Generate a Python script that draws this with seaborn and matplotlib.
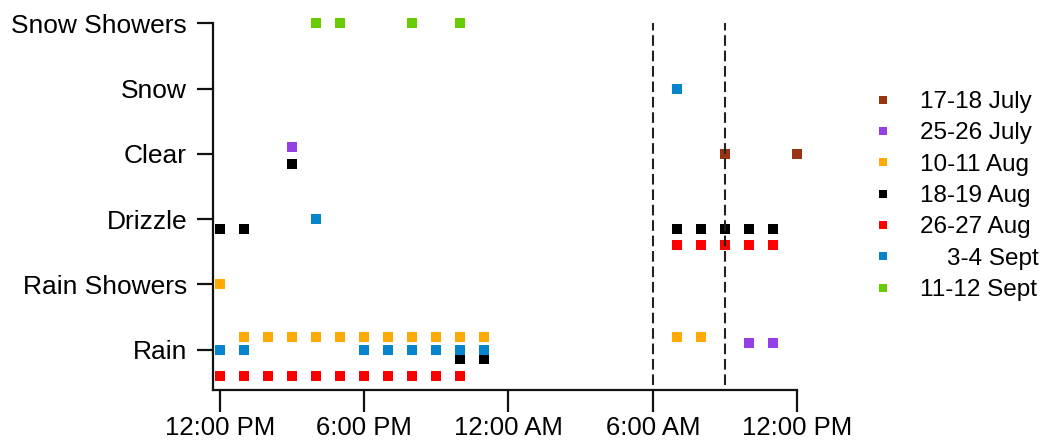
import matplotlib
matplotlib.use("Agg")
import matplotlib.pyplot as plt
import seaborn as sns
import pandas as pd

# condições do tempo (eixo y, de baixo para cima)
condicoes = ["Rain", "Rain Showers", "Drizzle", "Clear", "Snow", "Snow Showers"]

# horas contadas a partir do meio-dia (0 = 12:00 PM, 24 = 12:00 PM do dia seguinte)
periodos = ["17-18 July", "25-26 July", "10-11 Aug", "18-19 Aug",
            "26-27 Aug", "3-4 Sept", "11-12 Sept"]

jul17_horas = [21, 24]
jul17_cond = ["Clear", "Clear"]
jul17_desloc = [0, 0]

jul25_horas = [3, 22, 23]
jul25_cond = ["Clear", "Rain", "Rain"]
jul25_desloc = [0.1, 0.1, 0.1]

ago10_horas = [0, 1, 2, 3, 4, 5, 6, 7, 8, 9, 10, 11, 19, 20]
ago10_cond = ["Rain Showers", "Rain", "Rain", "Rain", "Rain", "Rain", "Rain",
              "Rain", "Rain", "Rain", "Rain", "Rain", "Rain", "Rain"]
ago10_desloc = [0, 0.2, 0.2, 0.2, 0.2, 0.2, 0.2, 0.2, 0.2, 0.2, 0.2, 0.2, 0.2, 0.2]

ago18_horas = [0, 1, 3, 10, 11, 19, 20, 21, 22, 23]
ago18_cond = ["Drizzle", "Drizzle", "Clear", "Rain", "Rain",
              "Drizzle", "Drizzle", "Drizzle", "Drizzle", "Drizzle"]
ago18_desloc = [-0.15] * 10

ago26_horas = [0, 1, 2, 3, 4, 5, 6, 7, 8, 9, 10, 19, 20, 21, 22, 23]
ago26_cond = ["Rain", "Rain", "Rain", "Rain", "Rain", "Rain", "Rain", "Rain",
              "Rain", "Rain", "Rain", "Drizzle", "Drizzle", "Drizzle",
              "Drizzle", "Drizzle"]
ago26_desloc = [-0.4] * 16

set3_horas = [0, 1, 4, 6, 7, 8, 9, 10, 11, 19]
set3_cond = ["Rain", "Rain", "Drizzle", "Rain", "Rain", "Rain", "Rain",
             "Rain", "Rain", "Snow"]
set3_desloc = [0] * 10

set11_horas = [4, 5, 8, 10]
set11_cond = ["Snow Showers"] * 4
set11_desloc = [0] * 4

# linhas tracejadas de referência (6:00 AM e 9:00 AM)
horas_referencia = [18, 21]

rotulos_x = ["12:00 PM", "6:00 PM", "12:00 AM", "6:00 AM", "12:00 PM"]
ticks_x = [0, 6, 12, 18, 24]

cores = ["#993311", "#9540E6", "#FFAA00", "#000000", "#FF0000", "#0585CC", "#66CC00"]

series = [
    (jul17_horas, jul17_cond, jul17_desloc),
    (jul25_horas, jul25_cond, jul25_desloc),
    (ago10_horas, ago10_cond, ago10_desloc),
    (ago18_horas, ago18_cond, ago18_desloc),
    (ago26_horas, ago26_cond, ago26_desloc),
    (set3_horas, set3_cond, set3_desloc),
    (set11_horas, set11_cond, set11_desloc),
]

linhas = []
for periodo, (horas, conds, desloc) in zip(periodos, series):
    for h, c, d in zip(horas, conds, desloc):
        linhas.append({"hora": h, "nivel": condicoes.index(c) + d, "periodo": periodo})
base_dados = pd.DataFrame(linhas)

sns.set_style("ticks")
plt.rcParams["font.family"] = ["Liberation Sans", "DejaVu Sans"]
plt.rcParams["text.color"] = "black"
plt.rcParams["xtick.labelcolor"] = "black"
plt.rcParams["ytick.labelcolor"] = "black"

fig = plt.figure(figsize=(10.49, 4.41), dpi=100)
ax = fig.add_axes([0.2028, 0.1156, 0.557, 0.8316])

sns.scatterplot(data=base_dados, x="hora", y="nivel", hue="periodo",
                hue_order=periodos, palette=cores, marker="s", s=52,
                linewidth=0, ax=ax, clip_on=False, zorder=3)

ax.vlines(horas_referencia, -0.55, 5, colors="#222222", linewidth=1.5,
          linestyles=(0, (5.1, 2.3)), zorder=4)

ax.set_xlim(-0.3, 24)
ax.set_ylim(-0.62, 5)
ax.set_xticks(ticks_x)
ax.set_xticklabels(rotulos_x, fontsize=18.5)
ax.set_yticks(range(len(condicoes)))
ax.set_yticklabels(condicoes, fontsize=19)
ax.set_xlabel("")
ax.set_ylabel("")

for lado in ["top", "right"]:
    ax.spines[lado].set_visible(False)
for lado in ["left", "bottom"]:
    ax.spines[lado].set_linewidth(1.6)
    ax.spines[lado].set_color("#111111")

ax.tick_params(axis="x", direction="out", length=15.5, width=1.6, pad=3.5, color="#111111")
ax.tick_params(axis="y", direction="out", length=11.5, width=1.6, pad=7, color="#111111")

handles, labels = ax.get_legend_handles_labels()
labels = [("    " + l if l == "3-4 Sept" else l) for l in labels]
ax.legend(handles, labels, loc="upper left", bbox_to_anchor=(871 / 1049, 1 - 91 / 441),
          bbox_transform=fig.transFigure, frameon=False, fontsize=17.5,
          handlelength=1.0, handletextpad=1.0, labelspacing=0.385,
          borderpad=0, borderaxespad=0, markerscale=0.85)

fig.savefig("out.png", dpi=100)
